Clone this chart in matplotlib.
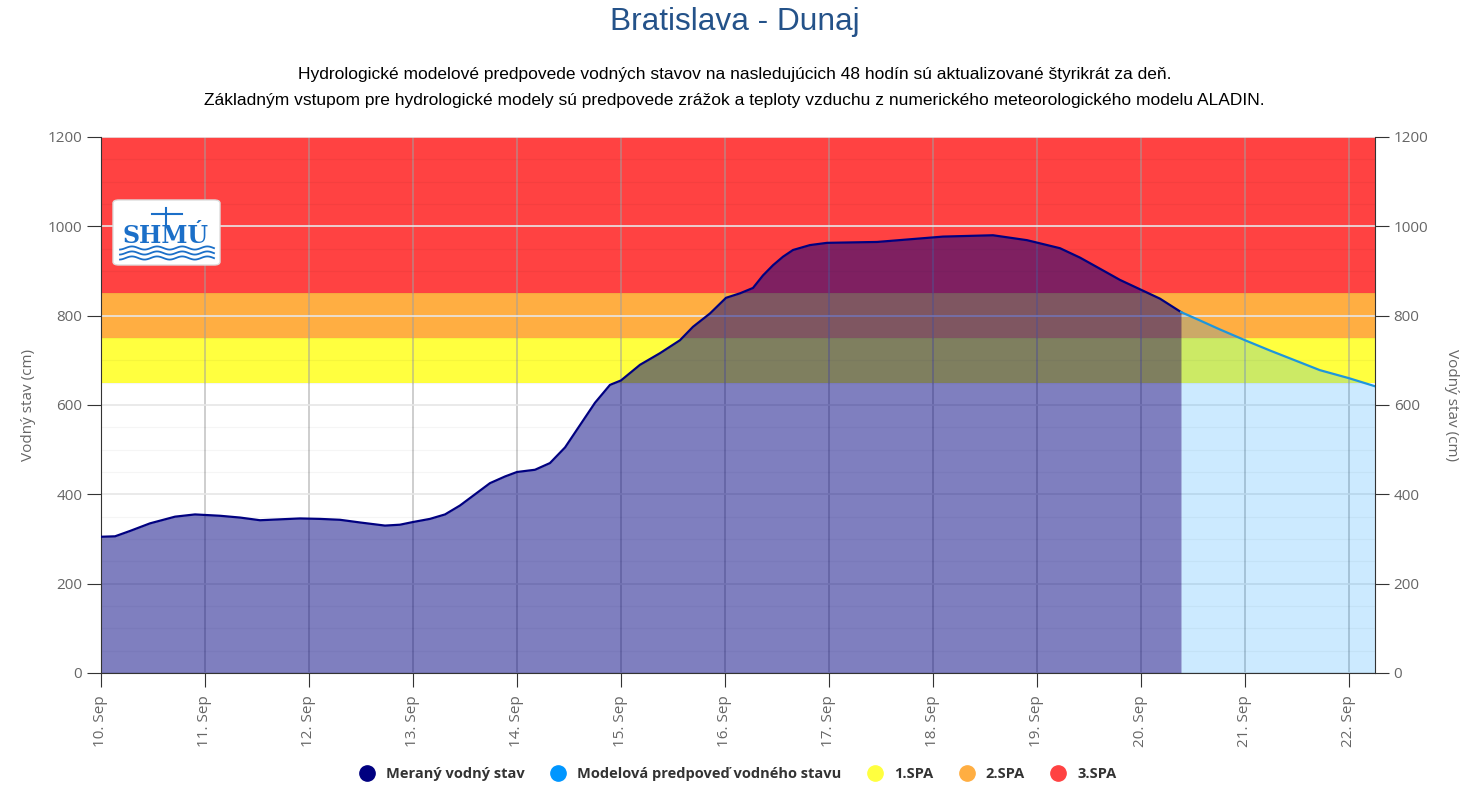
import matplotlib
matplotlib.use("Agg")
import matplotlib.pyplot as plt
import matplotlib.dates as mdates
from matplotlib.patches import FancyBboxPatch
from matplotlib.lines import Line2D
import numpy as np
import pandas as pd

# day offsets from 10 Sep 2024 00:00 and water level (cm)
meas_days = [0.0, 0.135, 0.279, 0.471, 0.712, 0.904, 1.144, 1.337, 1.529, 1.721,
             1.913, 2.106, 2.298, 2.490, 2.731, 2.875, 3.0, 3.163, 3.308, 3.452,
             3.596, 3.740, 3.885, 4.0, 4.173, 4.317, 4.462, 4.606, 4.750, 4.894,
             5.0, 5.183, 5.375, 5.567, 5.692, 5.856, 6.010, 6.144, 6.269, 6.365,
             6.462, 6.558, 6.654, 6.817, 6.981, 7.462, 8.096, 8.577, 8.904, 9.221,
             9.413, 9.606, 9.798, 10.0, 10.183, 10.385]
meas_vals = [305, 306, 318, 335, 350, 355, 352, 348, 342, 344,
             346, 345, 343, 337, 330, 332, 338, 345, 355, 375,
             400, 425, 440, 450, 455, 470, 505, 555, 605, 645,
             655, 690, 716, 745, 775, 805, 840, 850, 862, 890,
             913, 932, 947, 958, 963, 965, 977, 980, 969, 951,
             930, 905, 880, 858, 838, 808]

fc_days = [10.385, 10.56, 10.75, 11.0, 11.24, 11.48, 11.72, 12.0, 12.25]
fc_vals = [808, 790, 770, 745, 722, 700, 678, 660, 642]

spa_names = ["1.SPA", "2.SPA", "3.SPA"]
spa_low = [650, 750, 850]
spa_high = [750, 850, 1200]
spa_colors = ["#FFFF3F", "#FFAE42", "#FF4242"]

start = pd.Timestamp("2024-09-10")
t_meas = start + pd.to_timedelta(meas_days, unit="D")
t_fc = start + pd.to_timedelta(fc_days, unit="D")

plt.rcParams['font.family'] = ['Open Sans', 'DejaVu Sans']

fig = plt.figure(figsize=(14.69, 7.92), dpi=100)
ax = fig.add_axes([101/1469, 1-673/792, (1375-101)/1469, (673-137)/792])

for lo, hi, c in zip(spa_low, spa_high, spa_colors):
    ax.axhspan(lo, hi, color=c, zorder=0, lw=0)

ax.set_ylim(0, 1200)
ax.set_xlim(start, start + pd.Timedelta(days=12.25))
ax.set_yticks(np.arange(0, 1201, 200))
ax.set_yticks(np.arange(0, 1201, 50), minor=True)
ax.grid(axis='y', which='major', color='#e6e6e6', lw=1.2, zorder=1)
ax.grid(axis='y', which='minor', color='#000000', alpha=0.04, lw=0.8, zorder=1)
ax.xaxis.set_major_locator(mdates.DayLocator())
ax.xaxis.set_major_formatter(mdates.DateFormatter('%d. %b'))
ax.grid(axis='x', which='major', color='#a0a0a0', alpha=0.6, lw=1.2, zorder=1)

ax.fill_between(t_meas, meas_vals, color='#000080', alpha=0.5, lw=0, zorder=2)
ax.fill_between(t_fc, fc_vals, color='#0096FF', alpha=0.2, lw=0, zorder=2)
ax.plot(t_meas, meas_vals, color='#000080', lw=1.6, zorder=3)
ax.plot(t_fc, fc_vals, color='#1E96DC', lw=1.6, zorder=3)

for s in ['top', 'right']:
    ax.spines[s].set_visible(False)
ax.spines['left'].set_color('#333333')
ax.spines['bottom'].set_color('#333333')
ax.tick_params(axis='y', which='major', length=10, color='#333333', labelcolor='#666666', labelsize=11)
ax.tick_params(axis='y', which='minor', length=0)
ax.tick_params(axis='x', length=10, color='#333333', labelcolor='#666666', labelsize=11,
               labelrotation=90, pad=6)
ax.set_ylabel("Vodný stav (cm)", color='#666666', fontsize=11, labelpad=8)

ax2 = ax.twinx()
ax2.set_ylim(0, 1200)
ax2.set_yticks(np.arange(0, 1201, 200))
for s in ['top', 'left', 'bottom']:
    ax2.spines[s].set_visible(False)
ax2.spines['right'].set_color('#333333')
ax2.tick_params(axis='y', length=10, color='#333333', labelcolor='#666666', labelsize=11)
ax2.set_ylabel("Vodný stav (cm)", color='#666666', fontsize=11, rotation=270, labelpad=22)

# logo
logo = FancyBboxPatch((113/1469, 1-265/792), 107/1469, 65/792, boxstyle="round,pad=0,rounding_size=0.004",
                      transform=fig.transFigure, facecolor='white', edgecolor='#dddddd', zorder=5)
fig.patches.append(logo)
fig.text(166/1469, 1-236/792, "SHMÚ", ha='center', va='center', color='#1b6fc8',
         fontsize=17, fontweight='bold', family='DejaVu Serif', zorder=6)
wx = np.linspace(120/1469, 214/1469, 60)
for k in range(3):
    wy = 1-(248+k*5)/792 + 0.002*np.sin(wx*1469/4)
    fig.add_artist(Line2D(wx, wy, color='#1b6fc8', lw=1.3, zorder=6))
fig.add_artist(Line2D([166/1469, 166/1469], [1-208/792, 1-226/792], color='#1b6fc8', lw=1.5, zorder=6))
fig.add_artist(Line2D([152/1469, 182/1469], [1-214/792, 1-214/792], color='#1b6fc8', lw=1.5, zorder=6))

fig.text(0.5, 1-22/792, "Bratislava - Dunaj", ha='center', va='center', fontsize=22.8,
         color='#245289', family=['Liberation Sans', 'DejaVu Sans'])
fig.text(0.5, 1-74/792, "Hydrologické modelové predpovede vodných stavov na nasledujúcich 48 hodín sú aktualizované štyrikrát za deň.",
         ha='center', va='center', fontsize=12.55, color='black', family=['Liberation Sans', 'DejaVu Sans'])
fig.text(0.5, 1-101/792, "Základným vstupom pre hydrologické modely sú predpovede zrážok a teploty vzduchu z numerického meteorologického modelu ALADIN.",
         ha='center', va='center', fontsize=12.55, color='black', family=['Liberation Sans', 'DejaVu Sans'])

handles = [Line2D([], [], marker='o', ls='', color=c, markersize=11) for c in
           ['#000080', '#0096FF'] + spa_colors]
labels = ["Meraný vodný stav", "Modelová predpoveď vodného stavu"] + spa_names
leg = fig.legend(handles, labels, loc='center', bbox_to_anchor=(0.5, 1-774/792), ncol=5,
                 frameon=False, handletextpad=0.3, columnspacing=1.3, fontsize=10.5)
for t in leg.get_texts():
    t.set_color('#333333')
    t.set_fontweight('bold')

fig.savefig("out.png", dpi=100)
